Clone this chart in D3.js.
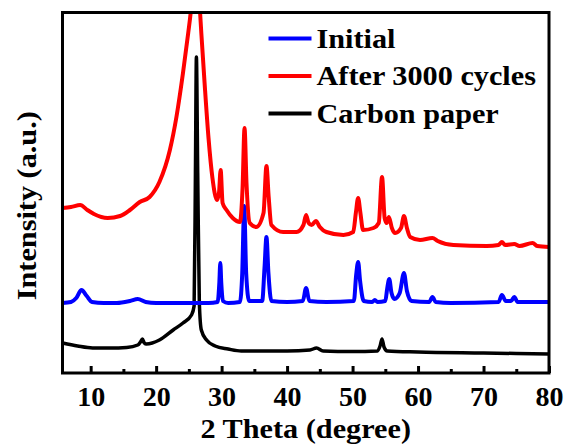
<!DOCTYPE html>
<html>
  <head>
    <meta charset="UTF-8" />
    <style>
      body {
        margin: 0;
        background: #fff;
      }
    </style>
  </head>
  <body>
    <div class="svg-container"></div>
    <script src="https://d3js.org/d3.v7.min.js"></script>
    <script>
      // x = 2 theta (degree), y = intensity (a.u.)
      var initial = [
        [5.7, 70], [7, 71], [7.8, 75], [8.6, 83], [9.4, 77], [10.2, 71],
        [12, 70], [14, 70], [16, 72], [17.2, 74], [18.4, 71], [20, 70],
        [24, 70], [28, 70], [29.4, 71], [29.65, 90], [29.8, 110], [29.95, 90],
        [30.2, 72], [31, 70], [32.8, 71], [33.15, 100], [33.45, 167],
        [33.75, 100], [34.2, 72], [36.2, 72], [36.55, 105], [36.85, 136],
        [37.15, 100], [37.6, 72], [40, 71], [42.4, 72], [42.9, 85],
        [43.4, 72], [46, 71], [50.2, 72], [50.55, 98], [50.85, 111],
        [51.15, 92], [51.7, 72], [53, 71], [53.4, 73], [53.8, 71], [55, 72],
        [55.3, 85], [55.6, 94], [55.95, 80], [56.4, 74], [57.2, 80],
        [57.85, 100], [58.3, 82], [59, 72], [61.7, 71], [62.2, 76],
        [62.7, 71], [65, 70], [72.3, 71], [72.8, 78], [73.4, 72], [74.2, 72],
        [74.7, 76], [75.2, 71], [77, 71], [80, 71]
      ];

      var cycled = [
        [5.7, 165], [7, 166], [8.4, 168], [9.5, 163], [10.5, 159],
        [12.6, 155], [14.5, 157], [16, 163], [17.5, 171], [19, 176],
        [20.5, 191], [22.1, 223], [23.1, 256], [24.1, 300], [24.9, 340],
        [25.3, 362], [26.0, 430], [26.7, 362], [26.9, 340], [27.4, 290],
        [28.0, 235], [28.6, 195], [29.3, 173], [29.6, 180], [29.85, 203],
        [30.15, 170], [30.75, 163], [31.7, 155], [32.8, 151], [33.2, 185],
        [33.5, 245], [33.8, 190], [34.3, 150], [35.3, 146], [36.4, 160],
        [36.85, 207], [37.2, 175], [37.6, 148], [39.4, 141], [41.45, 141],
        [42.5, 148], [42.9, 158], [43.3, 150], [43.75, 148], [44.4, 152],
        [45, 146], [46, 141], [48.6, 138], [50.1, 141], [50.5, 160],
        [50.85, 175], [51.2, 160], [51.6, 143], [53.2, 145], [54.0, 150],
        [54.5, 196], [54.9, 155], [55.2, 150], [55.55, 156], [56.0, 145],
        [56.5, 140], [57.4, 145], [57.85, 157], [58.3, 145], [58.8, 136],
        [60.3, 133], [62.2, 135], [63, 132], [65.4, 128], [70.5, 127],
        [72.3, 128], [72.8, 131], [73.3, 128], [74.7, 129], [75.5, 127],
        [77.5, 130], [78.2, 127], [80, 126]
      ];

      var carbon = [
        [5.7, 30], [8, 27], [10.3, 25], [13, 25], [15.5, 25.5], [17.2, 28],
        [17.6, 31], [17.9, 34], [18.2, 30], [18.5, 29], [20.5, 33],
        [22.6, 43], [24.1, 50], [25.4, 58], [25.8, 67], [26.0, 200],
        [26.15, 316], [26.35, 200], [26.6, 70], [26.9, 43], [27.7, 33],
        [29, 27], [31, 24], [33, 22], [40, 22], [43.5, 23], [44.5, 25],
        [45.5, 22], [50, 21.5], [53.8, 22], [54.2, 27], [54.5, 34],
        [54.8, 26], [55.3, 22], [60, 21], [70, 20], [80, 19]
      ];

      var seriesNames = ["Initial", "After 3000 cycles", "Carbon paper"];
      var seriesColors = ["#0000ff", "#ff0000", "#000000"];
      var majorTicks = [10, 20, 30, 40, 50, 60, 70, 80];
      var minorTicks = [15, 25, 35, 45, 55, 65, 75];

      var font = "'Liberation Serif', 'Times New Roman', serif";
      // the original lettering is a little wider than the font
      var stretch = 1.08;

      var margin = { top: 12.5, right: 19, bottom: 74, left: 62.5 },
        width = 568 - margin.left - margin.right,
        height = 447 - margin.top - margin.bottom;

      var svg = d3
        .select(".svg-container")
        .append("svg")
        .attr("width", width + margin.left + margin.right)
        .attr("height", height + margin.top + margin.bottom)
        .append("g")
        .attr("transform", "translate(" + margin.left + "," + margin.top + ")");

      var x = d3.scaleLinear().domain([5.7, 80]).range([0, width]),
        y = d3.scaleLinear().domain([0, 360.5]).range([height, 0]);

      var line = d3
        .line()
        .curve(d3.curveMonotoneX)
        .x((d) => x(d[0]))
        .y((d) => y(d[1]));

      svg
        .append("clipPath")
        .attr("id", "plot-clip")
        .append("rect")
        .attr("width", width)
        .attr("height", height);

      // carbon first, then initial, red on top
      var series = [
        { data: carbon, color: seriesColors[2], w: 3.5 },
        { data: initial, color: seriesColors[0], w: 4 },
        { data: cycled, color: seriesColors[1], w: 4 }
      ];

      svg
        .append("g")
        .attr("clip-path", "url(#plot-clip)")
        .selectAll(".line")
        .data(series)
        .enter()
        .append("path")
        .attr("class", "line")
        .attr("fill", "none")
        .attr("stroke-linejoin", "round")
        .attr("stroke-linecap", "round")
        .attr("d", (d) => line(d.data))
        .attr("stroke", (d) => d.color)
        .attr("stroke-width", (d) => d.w);

      // ticks inside the box
      var xAxis = svg
        .append("g")
        .attr("transform", "translate(0," + height + ")")
        .call(
          d3.axisBottom(x).tickValues(majorTicks).tickSizeInner(-7).tickSizeOuter(0).tickPadding(13)
        );
      xAxis.select(".domain").remove();
      xAxis.selectAll("line").attr("stroke", "#000").attr("stroke-width", 3);
      xAxis
        .selectAll("text")
        .attr("fill", "#000")
        .attr("font-family", font)
        .attr("font-size", 28)
        .attr("font-weight", "bold");

      var minorAxis = svg
        .append("g")
        .attr("transform", "translate(0," + height + ")")
        .call(
          d3.axisBottom(x).tickValues(minorTicks).tickSizeInner(-4).tickSizeOuter(0).tickFormat("")
        );
      minorAxis.select(".domain").remove();
      minorAxis.selectAll("line").attr("stroke", "#000").attr("stroke-width", 3);

      // frame
      svg
        .append("rect")
        .attr("width", width)
        .attr("height", height)
        .attr("fill", "none")
        .attr("stroke", "#000")
        .attr("stroke-width", 3);

      var labels = svg.append("g");

      // axis labels
      labels
        .append("text")
        .attr("x", width / 2)
        .attr("y", height + 65)
        .attr("text-anchor", "middle")
        .text("2 Theta (degree)");

      labels
        .append("text")
        .attr("transform", "rotate(-90)")
        .attr("x", -(height / 2) - 13)
        .attr("y", -27)
        .attr("text-anchor", "middle")
        .text("Intensity (a.u.)");

      // legend
      var legend = labels
        .selectAll(".legend")
        .data(seriesNames)
        .enter()
        .append("g")
        .attr("class", "legend")
        .attr("transform", (d, i) => "translate(206," + (26 + i * 37.5) + ")");

      legend
        .append("line")
        .attr("x1", 0)
        .attr("x2", 43)
        .attr("stroke", (d, i) => seriesColors[i])
        .attr("stroke-width", 4);

      legend
        .append("text")
        .attr("x", 48)
        .attr("dy", "0.33em")
        .text((d) => d);

      labels
        .selectAll("text")
        .attr("fill", "#000")
        .attr("font-family", font)
        .attr("font-size", 28)
        .attr("font-weight", "bold")
        .each(function () {
          var len = this.getComputedTextLength();
          d3.select(this)
            .attr("textLength", len * stretch)
            .attr("lengthAdjust", "spacingAndGlyphs");
        });
    </script>
  </body>
</html>
